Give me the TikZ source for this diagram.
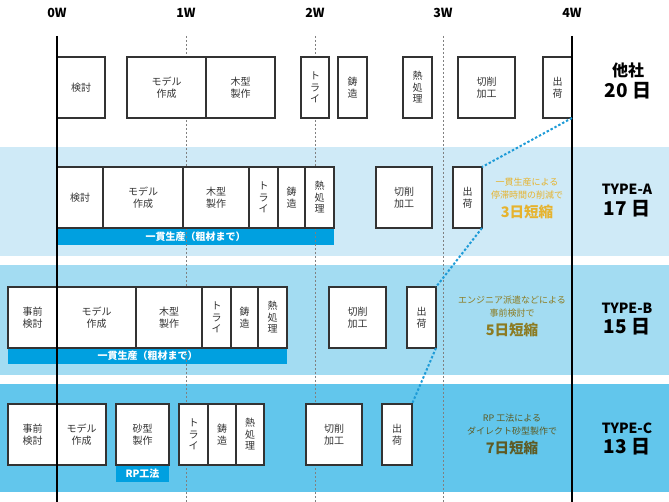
\documentclass[tikz,border=0pt]{standalone}
\usepackage{fontspec}
\setmainfont{Noto Sans CJK JP}
\definecolor{bandA}{HTML}{CFEAF7}
\definecolor{bandB}{HTML}{A3DCF2}
\definecolor{bandC}{HTML}{62C6EC}
\definecolor{barblue}{HTML}{00A0E0}
\definecolor{linkblue}{HTML}{1E9BD7}
\definecolor{goldA}{HTML}{E6B32E}
\definecolor{goldB}{HTML}{8C7B22}
\definecolor{goldC}{HTML}{5E5B24}
\definecolor{boxline}{HTML}{333333}
\tikzset{
  stage/.style={draw=boxline, line width=1.1pt, fill=white, text=boxline, inner sep=0pt, outer sep=0pt,
    anchor=north west, align=center, minimum height=61pt, font=\fontsize{10}{11.5}\selectfont},
  bar/.style={fill=barblue, text=white, inner sep=0pt, outer sep=0pt, anchor=north west,
    minimum height=16pt, font=\bfseries\fontsize{10}{11}\selectfont},
  week/.style={font=\bfseries\fontsize{12.5}{13}\selectfont},
  weekline/.style={gray, line width=0.8pt, dash pattern=on 2pt off 2pt},
  edgeline/.style={black, line width=1.4pt},
  link/.style={linkblue, line width=2pt, dash pattern=on 2.4pt off 2pt},
  firm/.style={font=\bfseries\fontsize{14}{16}\selectfont},
  days/.style={font=\bfseries\fontsize{19}{21}\selectfont},
  note/.style={align=center, font=\fontsize{9}{13}\selectfont},
  cut/.style={font=\bfseries\fontsize{14.5}{16}\selectfont}
}
\begin{document}
\begin{tikzpicture}[x=1pt, y=-1pt]
  \useasboundingbox (0,0) rectangle (669,502);

  % bands
  \fill [bandA] (0,147) rectangle (669,256);
  \fill [bandB] (0,265) rectangle (669,375);
  \fill [bandC] (0,384) rectangle (669,492);

  % bars under the boxes
  \node [bar, minimum width=277pt] (abar) at (57,229) {一貫生産（粗材まで）};
  \node [bar, minimum width=279pt] (bbar) at (8,348) {一貫生産（粗材まで）};
  \node [bar, minimum width=53pt] (cbar) at (116,466) {RP工法};

  % weeks
  \node [week] (w0) at (57,13) {0W};
  \node [week] (w1) at (186,13) {1W};
  \node [week] (w2) at (315,13) {2W};
  \node [week] (w3) at (443,13) {3W};
  \node [week] (w4) at (572,13) {4W};
  \coordinate (w1top) at (186,36); \coordinate (w1bot) at (186,502);
  \coordinate (w2top) at (315,36); \coordinate (w2bot) at (315,502);
  \coordinate (w3top) at (443,36); \coordinate (w3bot) at (443,502);
  \draw [weekline] (w1top) -- (w1bot);
  \draw [weekline] (w2top) -- (w2bot);
  \draw [weekline] (w3top) -- (w3bot);

  % other company
  \node [stage, minimum width=48pt] (okento) at (57,57) {検討};
  \node [stage, minimum width=79pt] (omodel) at (127,57) {モデル\\作成};
  \node [stage, minimum width=69pt] (omold) at (206,57) {木型\\製作};
  \node [stage, minimum width=28pt] (otry) at (301,57) {ト\\ラ\\イ};
  \node [stage, minimum width=29pt] (ocast) at (338,57) {鋳\\造};
  \node [stage, minimum width=29pt] (oheat) at (403,57) {熱\\処\\理};
  \node [stage, minimum width=57pt] (ocut) at (458,57) {切削\\加工};
  \node [stage, minimum width=29pt] (oship) at (543,57) {出\\荷};

  % type A
  \node [stage, minimum width=46pt] (akento) at (57,167) {検討};
  \node [stage, minimum width=80pt] (amodel) at (103,167) {モデル\\作成};
  \node [stage, minimum width=66pt] (amold) at (183,167) {木型\\製作};
  \node [stage, minimum width=29pt] (atry) at (249,167) {ト\\ラ\\イ};
  \node [stage, minimum width=27pt] (acast) at (278,167) {鋳\\造};
  \node [stage, minimum width=29pt] (aheat) at (305,167) {熱\\処\\理};
  \node [stage, minimum width=56pt] (acut) at (376,167) {切削\\加工};
  \node [stage, minimum width=29pt] (aship) at (453,167) {出\\荷};

  % type B
  \node [stage, minimum width=49pt] (bpre) at (8,287) {事前\\検討};
  \node [stage, minimum width=79pt] (bmodel) at (57,287) {モデル\\作成};
  \node [stage, minimum width=66pt] (bmold) at (136,287) {木型\\製作};
  \node [stage, minimum width=29pt] (btry) at (202,287) {ト\\ラ\\イ};
  \node [stage, minimum width=27pt] (bcast) at (231,287) {鋳\\造};
  \node [stage, minimum width=29pt] (bheat) at (258,287) {熱\\処\\理};
  \node [stage, minimum width=57pt] (bcut) at (329,287) {切削\\加工};
  \node [stage, minimum width=29pt] (bship) at (407,287) {出\\荷};

  % type C
  \node [stage, minimum width=49pt] (cpre) at (8,404) {事前\\検討};
  \node [stage, minimum width=49pt] (cmodel) at (57,404) {モデル\\作成};
  \node [stage, minimum width=53pt] (csand) at (116,404) {砂型\\製作};
  \node [stage, minimum width=29pt] (ctry) at (179,404) {ト\\ラ\\イ};
  \node [stage, minimum width=28pt] (ccast) at (208,404) {鋳\\造};
  \node [stage, minimum width=28pt] (cheat) at (236,404) {熱\\処\\理};
  \node [stage, minimum width=56pt] (ccut) at (306,404) {切削\\加工};
  \node [stage, minimum width=30pt] (cship) at (382,404) {出\\荷};

  % start and end lines
  \coordinate (w0top) at (57,36); \coordinate (w0bot) at (57,502);
  \coordinate (w4top) at (572,36); \coordinate (w4bot) at (572,502);
  \draw [edgeline] (w0top) -- (w0bot);
  \draw [edgeline] (w4top) -- (w4bot);

  % shipping links
  \draw [link] (oship.south east) -- (aship.north east);
  \draw [link] (aship.south east) -- (bship.north east);
  \draw [link] (bship.south east) -- (cship.north east);

  % savings
  \node [note, text=goldA] (anote) at (527,188.5) {一貫生産による\\停滞時間の削減で};
  \node [cut, text=goldA] (acutdays) at (527,212) {3日短縮};
  \node [note, text=goldB] (bnote) at (512,306.5) {エンジニア派遣などによる\\事前検討で};
  \node [cut, text=goldB] (bcutdays) at (512,330) {5日短縮};
  \node [note, text=goldC] (cnote) at (512,425) {RP 工法による\\ダイレクト砂型製作で};
  \node [cut, text=goldC] (ccutdays) at (512,448) {7日短縮};

  % totals
  \node [firm, font=\bfseries\fontsize{16}{18}\selectfont] (oname) at (628,70) {他社};
  \node [days] (odays) at (628,91) {20 日};
  \node [firm] (aname) at (627,189) {TYPE-A};
  \node [days] (adays) at (627,209) {17 日};
  \node [firm] (bname) at (627,308) {TYPE-B};
  \node [days] (bdays) at (627,327) {15 日};
  \node [firm] (cname) at (627,428) {TYPE-C};
  \node [days] (cdays) at (627,447) {13 日};
\end{tikzpicture}
\end{document}
